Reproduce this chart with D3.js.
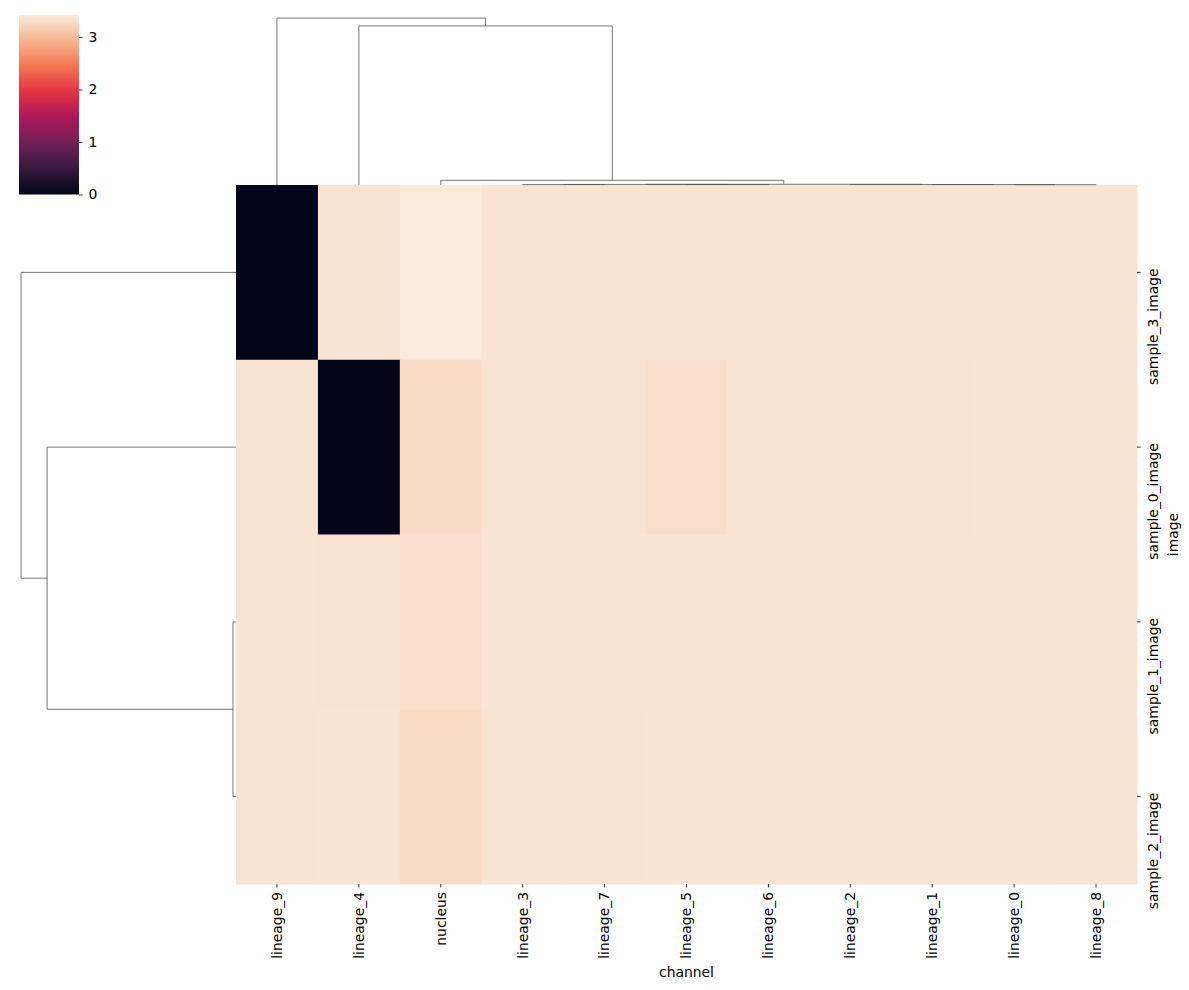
<!DOCTYPE html>
<html>
<head>
<meta charset="utf-8">
<script src="https://cdn.jsdelivr.net/npm/d3@7"></script>
<style>
  body { margin: 0; background: #fff; }
  text { font-family: "DejaVu Sans", sans-serif; font-size: 13.9px; fill: #000; }
</style>
</head>
<body>
<div id="chart"></div>
<script>
// Leaf order after clustering
const channels = ["lineage_9", "lineage_4", "nucleus", "lineage_3", "lineage_7", "lineage_5",
                  "lineage_6", "lineage_2", "lineage_1", "lineage_0", "lineage_8"];
const images = ["sample_3_image", "sample_0_image", "sample_1_image", "sample_2_image"];

// One row per image, columns in the order of channels
const sample3Values = [0.00, 3.36, 3.42, 3.36, 3.36, 3.36, 3.36, 3.36, 3.36, 3.36, 3.36];
const sample0Values = [3.36, 0.00, 3.28, 3.35, 3.35, 3.31, 3.35, 3.35, 3.35, 3.36, 3.36];
const sample1Values = [3.36, 3.35, 3.31, 3.36, 3.36, 3.36, 3.36, 3.36, 3.36, 3.36, 3.36];
const sample2Values = [3.35, 3.36, 3.27, 3.35, 3.35, 3.36, 3.36, 3.36, 3.36, 3.36, 3.355];
const values = [sample3Values, sample0Values, sample1Values, sample2Values];

// Linkage like scipy: [left, right, height]; ids < n are leaves, n + k is the k-th merge
const colLinkage = [
  [3, 4, 0.012],   // 11
  [5, 6, 0.012],   // 12
  [9, 10, 0.009],  // 13
  [8, 13, 0.012],  // 14
  [7, 14, 0.014],  // 15
  [11, 12, 0.016], // 16
  [16, 15, 0.020], // 17
  [2, 17, 0.131],  // 18
  [1, 18, 4.44],   // 19
  [0, 19, 4.66]    // 20
];
const rowLinkage = [
  [2, 3, 0.066],   // 4
  [1, 4, 4.13],    // 5
  [0, 5, 4.70]     // 6
];

const colorbarTicks = [0, 1, 2, 3];

// seaborn "rocket" colormap anchors
const rocketPos = [0, 1/7, 2/7, 3/7, 4/7, 5/7, 6/7, 1];
const rocketHex = ["#03051a", "#35193e", "#701f57", "#ad1759", "#e13342", "#f37651", "#f6b48f", "#faebdd"];

const width = 1189, height = 990;
const heat = { left: 236, right: 1137, top: 185, bottom: 884 };
const cbar = { left: 19, right: 79, top: 15, bottom: 194.5 };

const svg = d3.select("#chart").append("svg")
              .attr("width", width)
              .attr("height", height);

const x = d3.scaleBand().domain(channels).range([heat.left, heat.right]);
const y = d3.scaleBand().domain(images).range([heat.top, heat.bottom]);

const vmin = d3.min(values.flat());
const vmax = d3.max(values.flat());
const color = d3.scaleLinear()
                .domain(rocketPos.map(p => vmin + p * (vmax - vmin)))
                .range(rocketHex)
                .interpolate(d3.interpolateRgb);

// Heatmap cells
const cells = [];
values.forEach((row, i) => row.forEach((v, j) => cells.push({ img: images[i], ch: channels[j], v })));
svg.append("g")
   .selectAll("rect")
   .data(cells)
   .join("rect")
   .attr("x", d => x(d.ch))
   .attr("y", d => y(d.img))
   .attr("width", x.bandwidth() + 0.5)
   .attr("height", y.bandwidth() + 0.5)
   .attr("fill", d => color(d.v));

// Bottom axis
const xAxis = svg.append("g")
                 .attr("transform", `translate(0, ${heat.bottom})`)
                 .call(d3.axisBottom(x).tickSize(3.5).tickPadding(5));
xAxis.select(".domain").remove();
xAxis.selectAll("text")
     .attr("transform", "rotate(-90)")
     .attr("y", 0)
     .attr("x", -8)
     .attr("dy", "0.35em")
     .attr("text-anchor", "end")
     .attr("font-size", null).attr("font-family", null);
xAxis.selectAll("line").attr("stroke-width", 0.8);

svg.append("text")
   .attr("x", (heat.left + heat.right) / 2)
   .attr("y", 977)
   .attr("text-anchor", "middle")
   .text("channel");

// Right axis, labels end just above their tick
const yAxis = svg.append("g")
                 .attr("transform", `translate(${heat.right}, 0)`)
                 .call(d3.axisRight(y).tickSize(3.5));
yAxis.select(".domain").remove();
yAxis.selectAll("line").attr("stroke-width", 0.8);
yAxis.selectAll("text")
     .attr("transform", "rotate(-90)")
     .attr("x", 4)
     .attr("y", 16)
     .attr("dy", "0.35em")
     .attr("text-anchor", "end")
     .attr("font-size", null).attr("font-family", null);

svg.append("text")
   .attr("transform", `translate(1173, ${(heat.top + heat.bottom) / 2}) rotate(-90)`)
   .attr("text-anchor", "middle")
   .attr("dy", "0.35em")
   .text("image");

// Dendrograms
function dendroSegments(linkage, leaves, leafPos) {
  const pos = leaves.map(l => leafPos(l));
  const hgt = leaves.map(() => 0);
  const segs = [];
  linkage.forEach(([a, b, h]) => {
    segs.push({ p1: pos[a], h1: hgt[a], p2: pos[b], h2: hgt[b], h });
    pos.push((pos[a] + pos[b]) / 2);
    hgt.push(h);
  });
  return segs;
}

// Column dendrogram (above the heatmap)
const colMax = d3.max(colLinkage, d => d[2]);
const colH = d3.scaleLinear().domain([0, colMax * 1.05]).range([heat.top, 9.7]);
const colSegs = dendroSegments(colLinkage, channels, c => x(c) + x.bandwidth() / 2);
svg.append("g")
   .selectAll("path")
   .data(colSegs)
   .join("path")
   .attr("d", s => `M${s.p1},${colH(s.h1)}V${colH(s.h)}H${s.p2}V${colH(s.h2)}`)
   .attr("fill", "none")
   .attr("stroke", "#555")
   .attr("stroke-opacity", 0.8)
   .attr("stroke-width", 1);

// Row dendrogram (left of the heatmap)
const rowMax = d3.max(rowLinkage, d => d[2]);
const rowH = d3.scaleLinear().domain([0, rowMax * 1.05]).range([heat.left, 10.3]);
const rowSegs = dendroSegments(rowLinkage, images, r => y(r) + y.bandwidth() / 2);
svg.append("g")
   .selectAll("path")
   .data(rowSegs)
   .join("path")
   .attr("d", s => `M${rowH(s.h1)},${s.p1}H${rowH(s.h)}V${s.p2}H${rowH(s.h2)}`)
   .attr("fill", "none")
   .attr("stroke", "#555")
   .attr("stroke-opacity", 0.8)
   .attr("stroke-width", 1);

// Colorbar
const cb = d3.scaleLinear().domain([vmin, vmax]).range([cbar.bottom, cbar.top]);
const grad = svg.append("defs").append("linearGradient")
                .attr("id", "cbgrad")
                .attr("x1", 0).attr("y1", 1).attr("x2", 0).attr("y2", 0);
grad.selectAll("stop")
    .data(d3.range(0, 1.0001, 0.02))
    .join("stop")
    .attr("offset", t => t)
    .attr("stop-color", t => color(vmin + t * (vmax - vmin)));
svg.append("rect")
   .attr("x", cbar.left)
   .attr("y", cbar.top)
   .attr("width", cbar.right - cbar.left)
   .attr("height", cbar.bottom - cbar.top)
   .attr("fill", "url(#cbgrad)");
const cbAxis = svg.append("g")
                  .attr("transform", `translate(${cbar.right}, 0)`)
                  .call(d3.axisRight(cb).tickValues(colorbarTicks).tickFormat(d3.format("d")).tickSize(3.5).tickPadding(6));
cbAxis.select(".domain").remove();
cbAxis.selectAll("line").attr("stroke-width", 0.8);
cbAxis.selectAll("text").attr("font-size", null).attr("font-family", null);
</script>
</body>
</html>
